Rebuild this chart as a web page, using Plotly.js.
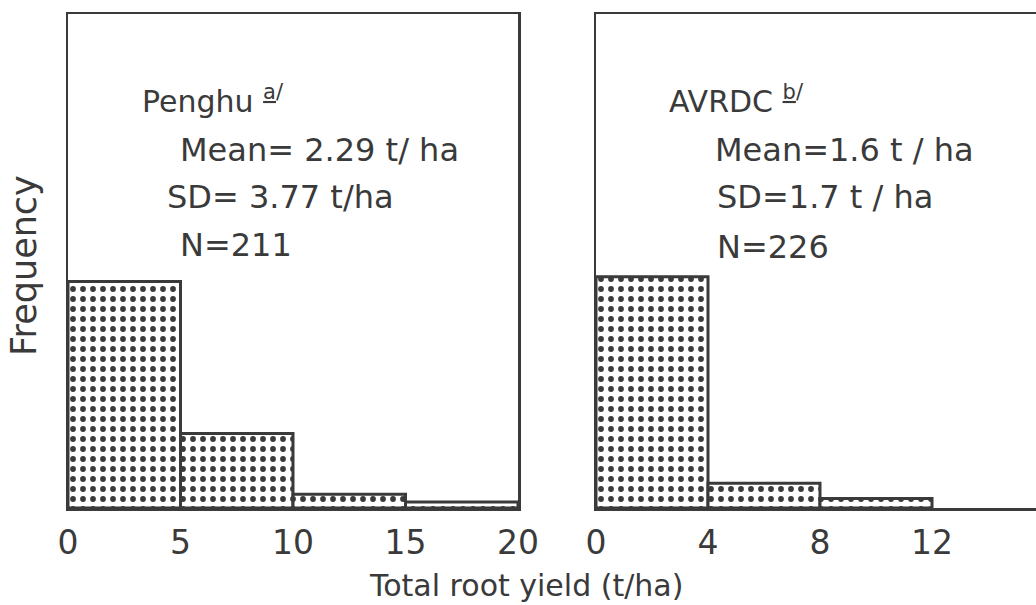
<!DOCTYPE html>
<html>
<head>
<meta charset="utf-8">
<script src="https://cdn.plot.ly/plotly-3.0.1.min.js"></script>
<style>html,body{margin:0;padding:0;background:#fff;}#chart{width:1036px;height:605px;}</style>
</head>
<body>
<div id="chart"></div>
<script>
// ---- data ----
const penghuEdges = [0, 5, 10, 15, 20];
const penghuCounts = [149, 49, 9, 4];
const avrdcEdges = [0, 4, 8, 12];
const avrdcCounts = [197, 21, 8];
const penghuTicks = [0, 5, 10, 15, 20];
const avrdcTicks = [0, 4, 8, 12];
const penghuLabel = 'Penghu <sup><u>a</u>/</sup>';
const penghuStats = ['Mean= 2.29 t/ ha', 'SD= 3.77 t/ha', 'N=211'];
const avrdcLabel = 'AVRDC <sup><u>b</u>/</sup>';
const avrdcStats = ['Mean=1.6 t / ha', 'SD=1.7 t / ha', 'N=226'];
const xTitle = 'Total root yield (t/ha)';
const yTitle = 'Frequency';

const INK = '#3a3a3a';
const FONT = 'DejaVu Sans, sans-serif';

function centers(edges){ const c=[]; for(let i=0;i<edges.length-1;i++) c.push((edges[i]+edges[i+1])/2); return c; }
function widths(edges){ const w=[]; for(let i=0;i<edges.length-1;i++) w.push(edges[i+1]-edges[i]); return w; }

const pattern = {shape: '.', fgcolor: INK, bgcolor: '#ffffff', size: 10, solidity: 0.26, fillmode: 'replace'};

const traces = [
  {type:'bar', x: centers(penghuEdges), y: penghuCounts, width: widths(penghuEdges), xaxis:'x', yaxis:'y',
   marker:{color:'#ffffff', pattern: pattern, line:{color: INK, width: 3}}, hoverinfo:'none', showlegend:false},
  {type:'bar', x: centers(avrdcEdges), y: avrdcCounts, width: widths(avrdcEdges), xaxis:'x2', yaxis:'y2',
   marker:{color:'#ffffff', pattern: pattern, line:{color: INK, width: 3}}, hoverinfo:'none', showlegend:false}
];

const L = 68, T = 14, B = 97, W = 1036, H = 605;
const pw = W - L, ph = H - T - B;
const px = v => (v - L) / pw;
const py = v => (H - B - v) / ph;

const axFont = {family: FONT, size: 33, color: INK};
const annFont = {family: FONT, size: 32, color: INK};
const labFont = {family: FONT, size: 30, color: INK};

function ann(text, x, y, font){ return {text, xref:'paper', yref:'paper', x: px(x), y: py(y), xanchor:'left', yanchor:'middle', showarrow:false, font: font || annFont}; }

const layout = {
  width: W, height: H,
  margin: {l: L, r: 0, t: T, b: B, pad: 0},
  paper_bgcolor: '#ffffff', plot_bgcolor: '#ffffff',
  bargap: 0,
  xaxis: {domain: [0, px(518)], range: [0, 20], tickvals: penghuTicks, ticks: '', showgrid: false, zeroline: false,
          showline: true, linecolor: INK, linewidth: 2.5, mirror: true, tickfont: axFont, ticklabelstandoff: 4, anchor: 'y'},
  yaxis: {domain: [0, 1], range: [0, 325], showticklabels: false, ticks: '', showgrid: false, zeroline: false,
          showline: true, linecolor: INK, linewidth: 2.5, mirror: true, anchor: 'x'},
  xaxis2: {domain: [px(596), 1], range: [0, (1036 - 596) / 28], tickvals: avrdcTicks, ticks: '', showgrid: false, zeroline: false,
          showline: true, linecolor: INK, linewidth: 2.5, mirror: true, tickfont: axFont, ticklabelstandoff: 4, anchor: 'y2'},
  yaxis2: {domain: [0, 1], range: [0, 421], showticklabels: false, ticks: '', showgrid: false, zeroline: false,
          showline: true, linecolor: INK, linewidth: 2.5, mirror: false, anchor: 'x2'},
  annotations: [
    ann(penghuLabel, 140, 100, labFont),
    ann(penghuStats[0], 178, 150),
    ann(penghuStats[1], 165, 197),
    ann(penghuStats[2], 178, 245),
    ann(avrdcLabel, 667, 100, labFont),
    ann(avrdcStats[0], 713, 150),
    ann(avrdcStats[1], 715, 197),
    ann(avrdcStats[2], 715, 247),
    {text: xTitle, xref:'paper', yref:'paper', x: px(526), y: py(585), xanchor:'center', yanchor:'middle', showarrow:false,
     font: {family: FONT, size: 30, color: INK}},
    {text: yTitle, xref:'paper', yref:'paper', x: px(24), y: py(266), xanchor:'center', yanchor:'middle', showarrow:false,
     textangle: -90, font: {family: FONT, size: 35, color: INK}}
  ]
};

Plotly.newPlot('chart', traces, layout, {displayModeBar: false, staticPlot: true});
</script>
</body>
</html>
